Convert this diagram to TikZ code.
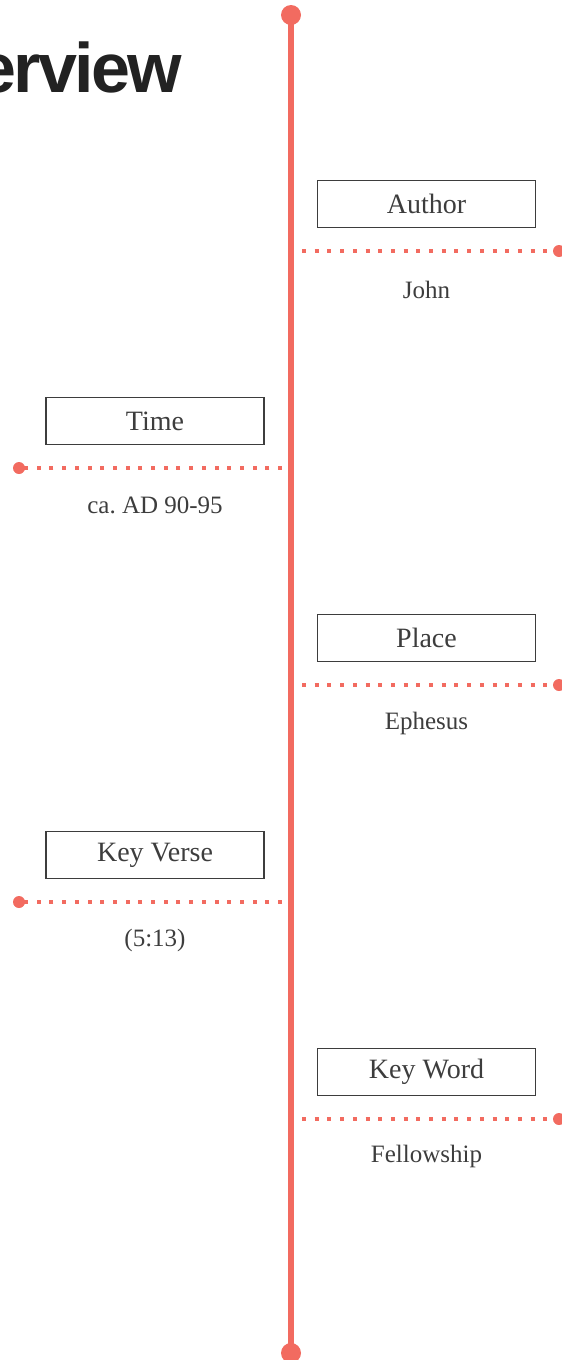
\documentclass[tikz,border=0pt]{standalone}
\usepackage{fontspec}
\setmainfont{Liberation Serif}
\newfontfamily\headfont[LetterSpace=-4]{Liberation Sans}
\usetikzlibrary{positioning}
\definecolor{salmon}{HTML}{F26B60}
\definecolor{ink}{HTML}{3D3D3D}
\definecolor{heading}{HTML}{222222}

\begin{document}
\begin{tikzpicture}[x=1pt, y=-1pt, semithick]
    \tikzstyle{topic}=[draw=ink, line width=1.6pt, minimum width=218pt, minimum height=47pt, inner sep=0pt, text=ink, font=\fontsize{28}{28}\selectfont]
    \tikzstyle{note}=[anchor=base, inner sep=0pt, text=ink, font=\fontsize{25}{25}\selectfont]
    \tikzstyle{spine}=[salmon, line width=5.5pt]
    \tikzstyle{leader}=[salmon, line width=4pt, dash pattern=on 4pt off 8.7pt]
    \clip (0,0) rectangle (562,1360);

    % heading, cut by the left edge
    \node[anchor=base east, inner sep=0pt, text=heading, font=\headfont\bfseries\fontsize{70}{70}\selectfont] (title) at (182,92) {Overview};

    % time line
    \coordinate (top)    at (291,15);
    \coordinate (bottom) at (291,1353);
    \draw[spine] (top) -- (bottom);
    \fill[salmon] (top) circle (10pt);
    \fill[salmon] (bottom) circle (10pt);

    % right side
    \node[topic] (author) at (426.5,204) {Author};
    \coordinate (author-in)  at (302,251);
    \coordinate (author-out) at (559,251);
    \draw[leader] (author-in) -- (author-out);
    \fill[salmon] (author-out) circle (6pt);
    \node[note] (john) at (426.5,298) {John};

    \node[topic] (place) at (426.5,638) {Place};
    \coordinate (place-in)  at (302,685);
    \coordinate (place-out) at (559,685);
    \draw[leader] (place-in) -- (place-out);
    \fill[salmon] (place-out) circle (6pt);
    \node[note] (ephesus) at (426.5,729) {Ephesus};

    \node[topic] (keyword) at (426.5,1072) {Key Word};
    \coordinate (keyword-in)  at (302,1119);
    \coordinate (keyword-out) at (559,1119);
    \draw[leader] (keyword-in) -- (keyword-out);
    \fill[salmon] (keyword-out) circle (6pt);
    \node[note] (fellowship) at (426.5,1162) {Fellowship};

    % left side
    \node[topic] (time) at (155,421) {Time};
    \coordinate (time-in)  at (282,468);
    \coordinate (time-out) at (19,468);
    \draw[leader] (time-in) -- (time-out);
    \fill[salmon] (time-out) circle (6pt);
    \node[note] (date) at (155,513) {ca.\ AD 90-95};

    \node[topic] (keyverse) at (155,855) {Key Verse};
    \coordinate (keyverse-in)  at (282,902);
    \coordinate (keyverse-out) at (19,902);
    \draw[leader] (keyverse-in) -- (keyverse-out);
    \fill[salmon] (keyverse-out) circle (6pt);
    \node[note] (verse) at (155,946) {(5:13)};
\end{tikzpicture}
\end{document}
